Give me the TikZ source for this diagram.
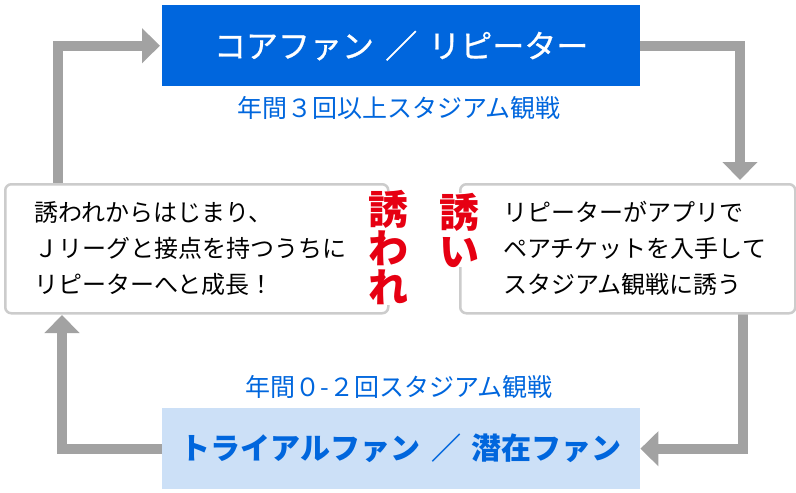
\documentclass[tikz,border=0pt]{standalone}
\usepackage{fontspec}
\setmainfont{Noto Sans CJK JP}
\usetikzlibrary{arrows.meta}
\definecolor{mainblue}{HTML}{0066DD}
\definecolor{lightblue}{HTML}{CCE0F7}
\definecolor{arrowgray}{HTML}{A2A2A2}
\definecolor{boxgray}{HTML}{CCCCCC}
\definecolor{invred}{HTML}{E60012}
\hfuzz=100pt
\begin{document}
\begin{tikzpicture}[x=1pt,y=-1pt,
  titlebox/.style={rectangle, minimum width=478pt, minimum height=81pt, inner sep=0pt, anchor=north west},
  subtxt/.style={text=mainblue, font=\fontsize{25}{30}\selectfont, inner sep=0pt},
  msgbox/.style={draw=boxgray, line width=2.5pt, rounded corners=6pt, fill=white, minimum height=129pt, anchor=north west, align=left, font=\fontsize{24}{36}\selectfont, inner ysep=0pt},
  redtxt/.style={text=invred, fill=white, font=\fontsize{40}{39}\selectfont\bfseries, align=center, inner sep=0pt},
  flow/.style={draw=arrowgray, line width=10pt, line join=miter, -{Triangle[width=34pt,length=18pt]}}
]
\useasboundingbox (0,0) rectangle (796,493);
% boxes
\node[titlebox, fill=mainblue, text=white, font=\fontsize{32}{36}\selectfont\addfontfeature{FakeBold=0.8}] (top) at (162,5) {コアファン\hspace{0.35em}／\hspace{0.35em}リピーター};
\node[subtxt] (topsub) at (399,108) {年間３回以上スタジアム観戦};
\node[titlebox, fill=lightblue, text=mainblue, font=\fontsize{30}{36}\selectfont\bfseries] (bottom) at (162,408) {トライアルファン\hspace{0.35em}／\hspace{0.35em}潜在ファン};
\node[subtxt] (botsub) at (399,387) {年間０-２回スタジアム観戦};
% arrows (drawn before the message boxes)
\draw[flow, shorten >=2pt] (58,183) |- (top.west);
\draw[flow, shorten >=3pt] (top.east) -| (740,183);
\draw[flow] (743,312) |- (bottom.east);
\draw[flow, shorten >=3pt] (bottom.west) -| (62,312);
% message boxes
\node[msgbox, text width=325pt, inner xsep=29pt] (left) at (4,183) {誘われからはじまり、\\Ｊリーグと接点を持つうちに\\リピーターへと成長！};
\node[msgbox, text width=249pt, inner xsep=43pt] (right) at (459,183) {リピーターがアプリで\\ペアチケットを入手して\\スタジアム観戦に誘う};
% red labels
\node[redtxt] (sasoware) at (388,248) {誘\\わ\\れ};
\node[redtxt] (sasoi) at (459,230) {誘\\い};
\end{tikzpicture}
\end{document}
